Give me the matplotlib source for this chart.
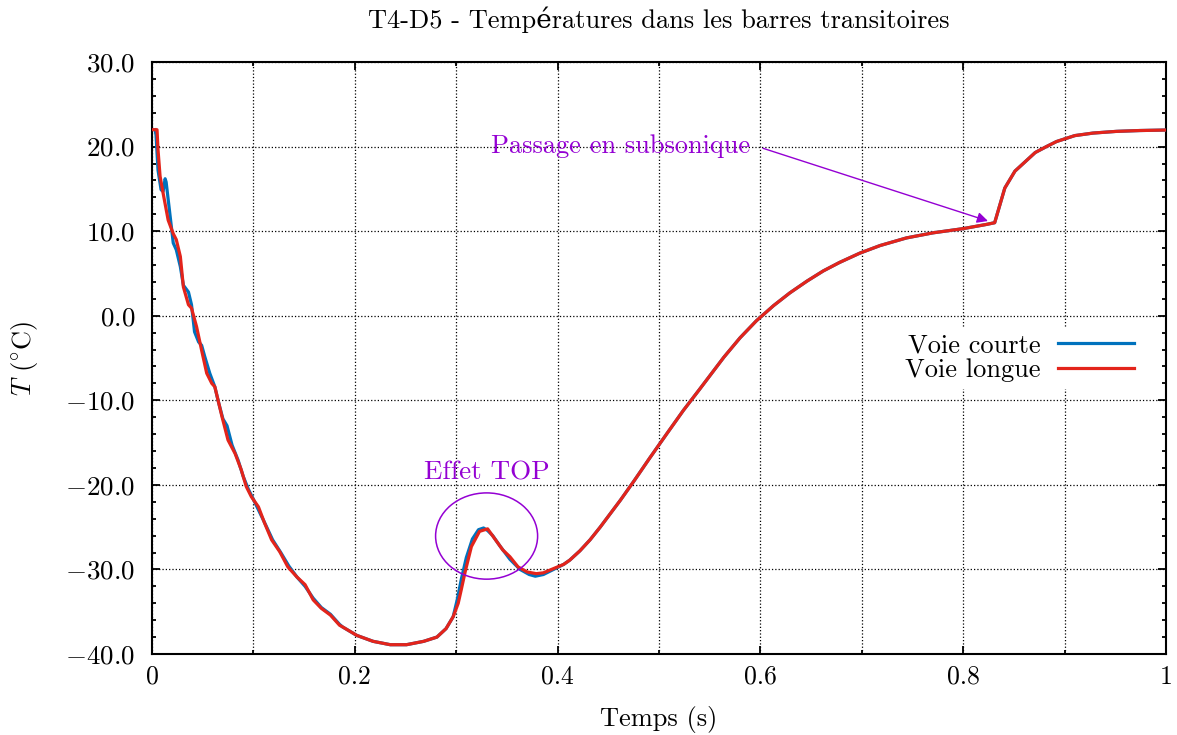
import numpy as np
import matplotlib
matplotlib.use("Agg")
import matplotlib.pyplot as plt
from matplotlib.patches import Ellipse
from matplotlib.ticker import MultipleLocator, FuncFormatter

plt.rcParams["font.family"] = ["cmr10", "DejaVu Serif"]
plt.rcParams["mathtext.fontset"] = "cm"
plt.rcParams["axes.formatter.use_mathtext"] = True
plt.rcParams["font.size"] = 19

# --- données ---
# début de l'essai, voie courte (bleu)
t_courte_debut = [0.003, 0.004, 0.006, 0.009, 0.011, 0.013, 0.014, 0.018, 0.021, 0.024,
                  0.028, 0.031, 0.036, 0.039, 0.042, 0.046, 0.049, 0.052, 0.057, 0.062,
                  0.066, 0.070, 0.074, 0.079, 0.085, 0.090, 0.095, 0.100, 0.106, 0.112,
                  0.119, 0.127, 0.135, 0.143, 0.151, 0.159, 0.167, 0.176, 0.185]
T_courte_debut = [22.0, 21.4, 17.2, 14.9, 14.7, 16.2, 15.8, 11.7, 8.6, 7.8,
                  5.8, 3.6, 2.8, 1.3, -1.9, -3.1, -3.5, -4.8, -6.8, -8.4,
                  -10.4, -12.2, -13.0, -15.3, -17.1, -19.0, -20.5, -21.7, -23.2, -24.7,
                  -26.5, -28.0, -29.6, -30.9, -32.0, -33.4, -34.5, -35.3, -36.5]

# début de l'essai, voie longue (rouge)
t_longue_debut = [0.001, 0.005, 0.006, 0.008, 0.011, 0.016, 0.021, 0.024, 0.028, 0.031,
                  0.036, 0.039, 0.044, 0.049, 0.054, 0.059, 0.062, 0.069, 0.075, 0.082,
                  0.088, 0.093, 0.098, 0.105, 0.111, 0.118, 0.126, 0.134, 0.143, 0.151,
                  0.159, 0.167, 0.176, 0.185]
T_longue_debut = [22.0, 22.0, 19.6, 16.5, 14.5, 11.3, 9.7, 9.0, 7.0, 3.4,
                  1.3, 0.9, -1.3, -4.1, -6.8, -8.0, -8.4, -11.9, -14.7, -16.3,
                  -18.2, -20.2, -21.4, -22.6, -24.5, -26.5, -27.9, -29.7, -30.9, -31.8,
                  -33.6, -34.6, -35.4, -36.6]

# creux commun
t_creux = [0.188, 0.202, 0.218, 0.235, 0.251, 0.268, 0.281, 0.290, 0.297]
T_creux = [-36.8, -37.8, -38.5, -38.9, -38.9, -38.5, -38.0, -37.0, -35.6]

# effet TOP
t_top_courte = [0.301, 0.305, 0.310, 0.316, 0.322, 0.327, 0.331, 0.336, 0.343, 0.353,
                0.363, 0.372, 0.378, 0.386, 0.396]
T_top_courte = [-33.6, -31.2, -28.6, -26.4, -25.3, -25.1, -25.4, -26.0, -27.2, -28.8,
                -30.0, -30.6, -30.8, -30.6, -30.0]
t_top_longue = [0.302, 0.305, 0.309, 0.315, 0.323, 0.331, 0.340, 0.346, 0.353, 0.361,
                0.370, 0.379, 0.386, 0.396]
T_top_longue = [-34.0, -32.4, -30.2, -27.3, -25.5, -25.2, -26.7, -27.7, -28.5, -29.7,
                -30.3, -30.5, -30.4, -29.9]

# remontée commune
t_fin = [0.406, 0.412, 0.422, 0.432, 0.442, 0.452, 0.462, 0.475, 0.491, 0.508,
         0.524, 0.540, 0.552, 0.564, 0.580, 0.596, 0.613, 0.629, 0.646, 0.662,
         0.678, 0.698, 0.718, 0.744, 0.770, 0.800, 0.823, 0.831, 0.841, 0.851,
         0.861, 0.871, 0.882, 0.892, 0.910, 0.928, 0.951, 0.974, 1.0]
T_fin = [-29.4, -28.9, -27.8, -26.5, -25.0, -23.4, -21.8, -19.6, -16.8, -13.9,
         -11.2, -8.7, -6.8, -4.9, -2.6, -0.6, 1.2, 2.7, 4.1, 5.3,
         6.3, 7.4, 8.3, 9.2, 9.8, 10.3, 10.8, 11.0, 15.1, 17.1,
         18.2, 19.3, 20.0, 20.6, 21.3, 21.6, 21.8, 21.9, 21.96]

t_courte = t_courte_debut + t_creux + t_top_courte + t_fin
T_courte = T_courte_debut + T_creux + T_top_courte + T_fin
t_longue = t_longue_debut + t_creux + t_top_longue + t_fin
T_longue = T_longue_debut + T_creux + T_top_longue + T_fin

violet = "#9400D3"

fig = plt.figure(figsize=(11.77, 7.35), dpi=100)
ax = fig.add_axes([0.1291, 0.1102, 0.8616, 0.8054])

ax.plot(t_courte, T_courte, color="#0072BD", lw=2.3, label="Voie courte", zorder=3)
ax.plot(t_longue, T_longue, color="#E3241B", lw=2.3, label="Voie longue", zorder=4)

ax.set_xlim(0, 1)
ax.set_ylim(-40, 30)

ax.xaxis.set_major_locator(MultipleLocator(0.2))
ax.xaxis.set_minor_locator(MultipleLocator(0.1))
ax.yaxis.set_major_locator(MultipleLocator(10))
ax.yaxis.set_minor_locator(MultipleLocator(2))
ax.xaxis.set_major_formatter(FuncFormatter(lambda v, p: "%g" % round(v, 1)))
ax.yaxis.set_major_formatter(FuncFormatter(lambda v, p: "$%.1f$" % v))

ax.tick_params(which="both", direction="in", top=True, right=True, width=1.3)
ax.tick_params(which="major", length=5.5)
ax.tick_params(which="minor", length=2.8)
ax.tick_params(axis="x", which="major", pad=8, labelsize=18.5)
ax.tick_params(axis="y", which="major", pad=12, labelsize=19.5)
for s in ax.spines.values():
    s.set_linewidth(1.5)

ax.grid(True, which="major", axis="both", color="black", ls=":", lw=0.9)
ax.grid(True, which="minor", axis="x", color="black", ls=":", lw=0.9)
ax.set_axisbelow(True)

ax.set_xlabel("Temps (s)")
ax.xaxis.set_label_coords(0.5, -0.088)
ax.set_ylabel(r"$T$ ($^{\circ}$C)")
ax.yaxis.set_label_coords(-0.11, 0.5)
ax.set_title("T4-D5 - Températures dans les barres transitoires", fontsize=19,
             y=1.071, va="center", pad=0)

# annotations
ax.add_patch(Ellipse((0.330, -26.05), 0.1006, 10.2, fill=False, ec=violet, lw=1.1, zorder=5))
ax.text(0.330, -18.6, "Effet TOP", color=violet, ha="center", va="center", fontsize=19.5)
ax.text(0.590, 20.0, "Passage en subsonique", color=violet, ha="right", va="center")
ax.annotate("", xy=(0.827, 11.1), xytext=(0.600, 19.9),
            arrowprops=dict(arrowstyle="-|>", color=violet, lw=1.0, mutation_scale=16))

leg = ax.legend(loc="center right", bbox_to_anchor=(0.987, 0.50), markerfirst=False,
                frameon=True, fancybox=False, edgecolor="white", facecolor="white",
                framealpha=1, handlelength=2.9, handletextpad=0.65, labelspacing=0.05,
                borderpad=0.2)
for txt in leg.get_texts():
    txt.set_ha("right")

fig.savefig("out.png", dpi=100)
